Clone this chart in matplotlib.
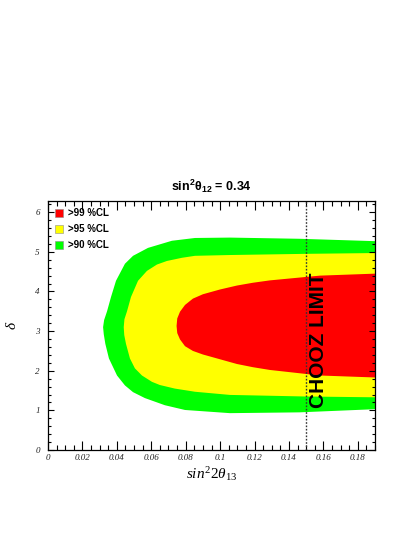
import matplotlib
matplotlib.use("Agg")
import matplotlib.pyplot as plt
from matplotlib.patches import Patch
from matplotlib.ticker import MultipleLocator

plt.rcParams['mathtext.fontset'] = 'custom'
plt.rcParams['mathtext.it'] = 'Liberation Serif:italic'
plt.rcParams['mathtext.rm'] = 'Liberation Serif'
plt.rcParams['mathtext.bf'] = 'Liberation Sans:bold'

# contour boundaries (x = sin^2 2theta13, y = delta)
# 90 %CL
g_up_x = [0.0320, 0.0326, 0.0343, 0.0366, 0.0395, 0.0447, 0.0494, 0.0581, 0.0720, 0.0854, 0.1057, 0.146, 0.19]
g_up_y = [3.10, 3.28, 3.50, 3.86, 4.27, 4.70, 4.90, 5.10, 5.28, 5.35, 5.36, 5.33, 5.27]
g_lo_x = [0.0320, 0.0324, 0.0333, 0.0354, 0.0401, 0.0447, 0.0494, 0.0563, 0.0679, 0.0796, 0.1057, 0.146, 0.19]
g_lo_y = [3.10, 2.92, 2.68, 2.31, 1.88, 1.63, 1.46, 1.31, 1.13, 1.01, 0.93, 0.95, 1.03]
# 95 %CL
y_up_x = [0.0440, 0.0444, 0.0459, 0.0482, 0.0523, 0.0575, 0.0633, 0.0691, 0.0778, 0.0854, 0.1057, 0.15, 0.19]
y_up_y = [3.10, 3.30, 3.50, 3.86, 4.27, 4.52, 4.68, 4.77, 4.85, 4.90, 4.92, 4.95, 4.97]
y_lo_x = [0.0440, 0.0443, 0.0453, 0.0476, 0.0505, 0.0546, 0.0604, 0.0650, 0.0737, 0.0854, 0.1057, 0.15, 0.19]
y_lo_y = [3.10, 2.90, 2.68, 2.31, 2.06, 1.88, 1.72, 1.64, 1.55, 1.47, 1.39, 1.35, 1.33]
# 99 %CL
r_up_x = [0.0747, 0.0751, 0.0767, 0.0796, 0.0842, 0.0900, 0.0999, 0.1098, 0.1190, 0.1289, 0.158, 0.19]
r_up_y = [3.13, 3.32, 3.49, 3.66, 3.82, 3.93, 4.05, 4.15, 4.22, 4.28, 4.40, 4.45]
r_lo_x = [0.0747, 0.0751, 0.0767, 0.0796, 0.0842, 0.0900, 0.0999, 0.1098, 0.1190, 0.1289, 0.158, 0.19]
r_lo_y = [3.13, 2.95, 2.79, 2.62, 2.50, 2.41, 2.29, 2.17, 2.09, 2.02, 1.88, 1.83]

labels = ['>99 %CL', '>95 %CL', '>90 %CL']
colors = ['#ff0000', '#ffff00', '#00ff00']
chooz = 0.15

fig = plt.figure(figsize=(4.15, 5.37), dpi=100)
ax = fig.add_axes([0.1157, 0.162, 0.7879, 0.4637])

def region(ux, uy, lx, ly, c):
    xs = ux + lx[::-1]
    ys = uy + ly[::-1]
    ax.fill(xs, ys, color=c, linewidth=0)

region(g_up_x, g_up_y, g_lo_x, g_lo_y, colors[2])
region(y_up_x, y_up_y, y_lo_x, y_lo_y, colors[1])
region(r_up_x, r_up_y, r_lo_x, r_lo_y, colors[0])

ax.axvline(chooz, color='#333333', linestyle=(0, (1.2, 1.2)), linewidth=1.0)
ax.text(0.157, 2.76, 'CHOOZ LIMIT', rotation=90, ha='center', va='center',
        fontsize=15, fontweight='bold', family='Liberation Sans')

ax.set_xlim(0, 0.19)
ax.set_ylim(0, 6.2832)
ax.xaxis.set_major_locator(MultipleLocator(0.02))
ax.xaxis.set_minor_locator(MultipleLocator(0.005))
ax.yaxis.set_major_locator(MultipleLocator(1))
ax.yaxis.set_minor_locator(MultipleLocator(0.2))
ax.set_xticks([0, 0.02, 0.04, 0.06, 0.08, 0.1, 0.12, 0.14, 0.16, 0.18])
ax.set_xticklabels(['0', '0.02', '0.04', '0.06', '0.08', '0.1', '0.12', '0.14', '0.16', '0.18'])
ax.tick_params(axis='both', which='both', direction='in', top=True, right=True, width=0.8)
ax.tick_params(axis='x', which='major', length=6.5, pad=3)
ax.tick_params(axis='x', which='minor', length=3.5)
ax.tick_params(axis='y', which='major', length=4.5, pad=6)
ax.tick_params(axis='y', which='minor', length=2.3)
for t in ax.get_xticklabels() + ax.get_yticklabels():
    t.set_family('Liberation Serif')
    t.set_style('italic')
    t.set_fontsize(6.5)
    t.set_color('#222222')
for s in ax.spines.values():
    s.set_linewidth(0.9)

ax.set_xlabel(r'$sin^{2}2\theta_{13}$', fontsize=11, labelpad=2)
ax.set_ylabel(r'$\delta$', fontsize=11, labelpad=12)
ax.set_title(r'$\mathbf{sin^{2}\theta_{12}}$' + ' = 0.34', fontsize=9,
             fontweight='bold', family='Liberation Sans', pad=7)

handles = [Patch(facecolor=c, edgecolor='0.55', linewidth=0.4) for c in colors]
leg = ax.legend(handles, labels, loc='upper left', bbox_to_anchor=(0.022, 0.97),
                frameon=False, handlelength=0.85, handleheight=0.85, handletextpad=0.45,
                labelspacing=0.6, borderpad=0, borderaxespad=0,
                prop={'family': 'Liberation Sans', 'weight': 'bold', 'size': 7})

fig.savefig('out.png', dpi=100)
